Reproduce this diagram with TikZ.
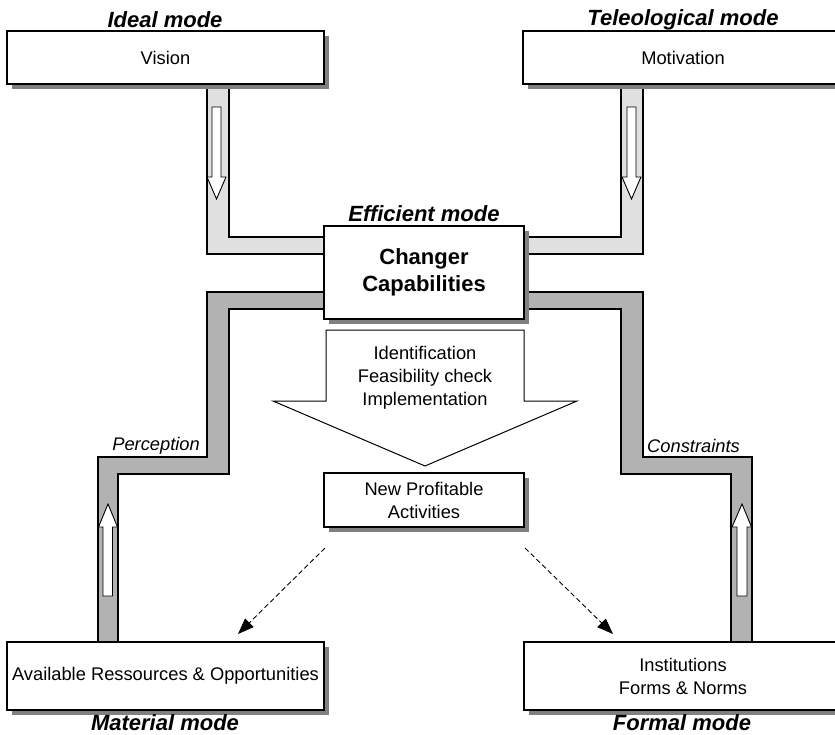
\documentclass[tikz,border=0pt]{standalone}
\usepackage{fontspec}
\setmainfont{Liberation Sans}
\usetikzlibrary{shadows,arrows.meta}
\newcommand\normtxt{\fontsize{18.3}{23}\selectfont}
\newcommand\modetxt{\fontsize{22}{26}\selectfont\bfseries\itshape}
\definecolor{lightch}{gray}{0.88}
\definecolor{darkch}{gray}{0.70}
\tikzset{
  modebox/.style={draw=black, line width=1.2pt, fill=white, inner sep=0pt, align=center,
    font=\normtxt, drop shadow={shadow xshift=5pt, shadow yshift=-5pt, fill=black!50, opacity=1}},
  modelabel/.style={font=\modetxt, inner sep=0pt},
  channel/.style={draw=black, line width=2pt, line join=miter},
  lightchannel/.style={channel, fill=lightch},
  darkchannel/.style={channel, fill=darkch},
  whitearrow/.style={draw=black, line width=0.9pt, fill=white},
  dasharrow/.style={dash pattern=on 5pt off 3pt, line width=0.9pt, -{Triangle[length=16pt,width=12pt]}},
  sidelabel/.style={font=\normtxt\itshape, inner sep=0pt}
}
\begin{document}
\begin{tikzpicture}[x=1pt,y=-1pt]
\useasboundingbox (0,0) rectangle (835,734);
% channels
\draw[lightchannel] (207,80) -- (207,254) -- (326,254) -- (326,237) -- (229,237) -- (229,80) -- cycle;
\draw[lightchannel] (621,80) -- (621,237) -- (522,237) -- (522,254) -- (643,254) -- (643,80) -- cycle;
\draw[darkchannel] (326,292) -- (207,292) -- (207,457) -- (98,457) -- (98,644) -- (118,644) -- (118,474) -- (229,474) -- (229,309) -- (326,309) -- cycle;
\draw[darkchannel] (522,292) -- (643,292) -- (643,457) -- (752,457) -- (752,644) -- (731,644) -- (731,474) -- (621,474) -- (621,309) -- (522,309) -- cycle;
% arrows inside channels
\draw[whitearrow] (212,107) -- (221,107) -- (221,177) -- (226,177) -- (216.5,199) -- (207,177) -- (212,177) -- cycle;
\draw[whitearrow] (627,107) -- (636,107) -- (636,177) -- (641,177) -- (631.5,199) -- (622,177) -- (627,177) -- cycle;
\draw[whitearrow] (103,596) -- (112.5,596) -- (112.5,527) -- (117.5,527) -- (108,504) -- (98.5,527) -- (103,527) -- cycle;
\draw[whitearrow] (737,596) -- (747,596) -- (747,527) -- (751.5,527) -- (742,504) -- (732,527) -- (737,527) -- cycle;
% boxes
\node[modebox, minimum width=317pt, minimum height=53pt] (vision) at (165.5,57.5) {Vision};
\node[modebox, minimum width=320pt, minimum height=53pt] (motiv) at (683,57.5) {Motivation};
\node[modebox, minimum width=200pt, minimum height=93pt, font=\fontsize{22}{27}\selectfont\bfseries] (changer) at (424,272.5) {Changer\\Capabilities};
\node[modebox, minimum width=200pt, minimum height=54pt] (npa) at (424,500) {New Profitable\\Activities};
\node[modebox, minimum width=317pt, minimum height=68pt] (material) at (165.5,676) {Available Ressources \& Opportunities};
\node[modebox, minimum width=318pt, minimum height=68pt] (formal) at (683,676) {Institutions\\Forms \& Norms};
% big process arrow
\draw[line width=1pt, fill=white] (326,330) -- (524,330) -- (524,401) -- (577,401) -- (425,466) -- (273,401) -- (326,401) -- cycle;
\node[font=\normtxt, align=center, inner sep=0pt] (proc) at (425,378) {Identification\\Feasibility check\\Implementation};
% mode labels
\node[modelabel] (lideal) at (165,20) {Ideal mode};
\node[modelabel] (ltele) at (683,20) {Teleological mode};
\node[modelabel] (leff) at (424,214) {Efficient mode};
\node[modelabel] (lmat) at (165,722.5) {Material mode};
\node[modelabel] (lform) at (682,722.5) {Formal mode};
% side labels
\node[sidelabel, anchor=east] (lperc) at (200,446) {Perception};
\node[sidelabel, anchor=west] (lcons) at (647,446) {Constraints};
% dashed arrows
\coordinate (d1s) at (325,548);
\coordinate (d1e) at (238,634);
\coordinate (d2s) at (525,548);
\coordinate (d2e) at (613,634);
\draw[dasharrow] (d1s) -- (d1e);
\draw[dasharrow] (d2s) -- (d2e);
\end{tikzpicture}
\end{document}
